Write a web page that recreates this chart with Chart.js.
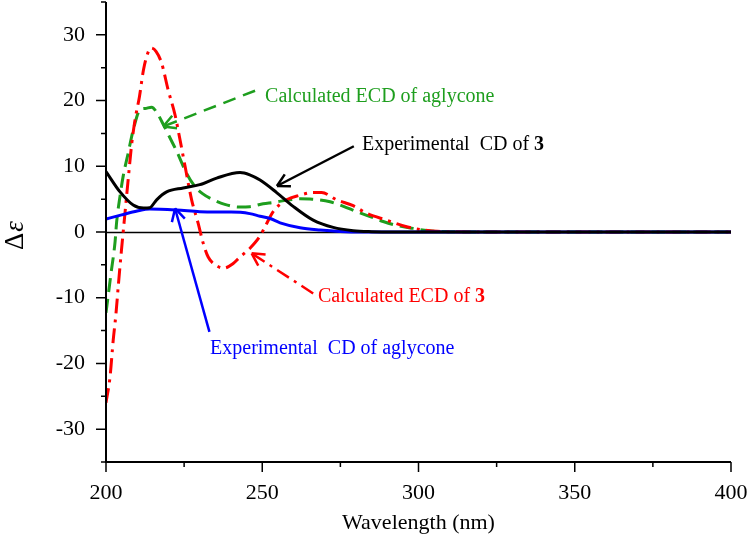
<!DOCTYPE html>
<html>
<head>
<meta charset="utf-8">
<script src="https://cdn.jsdelivr.net/npm/chart.js@4.4.1/dist/chart.umd.min.js"></script>
<style>
  html, body { margin: 0; padding: 0; background: #fff; }
  #box { width: 750px; height: 552px; }
</style>
</head>
<body>
<div id="box"><canvas id="cd"></canvas></div>
<script>
// wavelength (nm) and delta epsilon
const expWl3 = [200, 204.5, 208.7, 212, 214, 216.2, 219.4, 224.7, 230, 235.4, 242.9, 246, 249.3, 254.6, 259.9, 266.3, 272.7, 279.1, 285, 292, 300, 350, 400];
const expCd3 = [9.2, 6.1, 4.1, 3.65, 3.7, 4.9, 6.1, 6.7, 7.2, 8.2, 9.05, 8.7, 7.9, 6.0, 3.9, 1.8, 0.7, 0.2, 0.05, 0, 0, 0, 0];

const expWlAgl = [200, 205, 210, 214, 222.6, 230, 235, 240, 243, 246, 249.3, 252.5, 255.7, 262.1, 268.5, 274.9, 282, 300, 400];
const expCdAgl = [1.97, 2.6, 3.2, 3.5, 3.35, 3.1, 3.05, 3.05, 3.0, 2.8, 2.4, 2.05, 1.4, 0.65, 0.3, 0.08, 0, 0, 0];

const calcWl3 = [200, 201.3, 202.3, 203.2, 204, 205, 206, 207, 208.2, 209.3, 210.7, 212, 213.2, 214.4, 216, 217.8, 219.9, 222.1, 223.7, 225.3, 227.4, 229.5, 231.1, 232.7, 235, 237.7, 240.7, 242.9, 246, 249.3, 251, 253.5, 257.8, 262, 266, 269, 273.8, 279.1, 283.4, 289.8, 296.2, 301, 306, 320, 400];
const calcEcd3 = [-26, -22, -16.5, -12.4, -7.8, -2.5, 2.5, 7.5, 13.3, 17.1, 20.6, 24.7, 27.0, 28.0, 27.5, 25.7, 21.6, 17.8, 14.0, 10.0, 4.9, 1.3, -1.7, -3.8, -5.0, -5.5, -4.8, -3.8, -2.5, -0.6, 0.9, 3.1, 4.9, 5.6, 6.0, 6.0, 4.9, 4.0, 2.85, 1.8, 0.8, 0.35, 0.1, 0, 0];

const calcWlAgl = [200, 201.6, 202.9, 203.4, 204.5, 205.5, 207, 208.7, 210.9, 212.5, 214.6, 216.5, 218.5, 220.5, 222.6, 225.8, 228.5, 231, 234.3, 238, 242.9, 246, 250.3, 253.5, 258, 262.1, 266, 271.7, 276, 280.2, 284.5, 288.7, 293, 298.3, 303, 310, 320, 400];
const calcEcdAgl = [-12.3, -6.3, -1.5, 1.5, 5.5, 8.5, 11.8, 15.5, 18.6, 18.8, 19.0, 18.0, 16.2, 14.3, 12.3, 8.9, 6.9, 5.8, 4.9, 4.2, 3.8, 3.85, 4.3, 4.5, 4.85, 5.05, 5.0, 4.6, 3.9, 3.1, 2.35, 1.6, 1.0, 0.55, 0.2, 0.05, 0, 0];

const xTicks = [200, 250, 300, 350, 400];
const yTicks = [-30, -20, -10, 0, 10, 20, 30];

const serif = "'Liberation Serif', 'Times New Roman', serif";
const GREEN = '#1e9e1e';

// annotation arrows and labels, in data coordinates
const notes = [
  { text: 'Calculated ECD of aglycone', at: [250.9, 20.6], from: [247.7, 21.5], to: [218.3, 16.05], color: GREEN, dash: [13, 8] },
  { text: 'Experimental  CD of ', bold: '3', at: [281.9, 13.3], from: [279.3, 13.05], to: [254.7, 7.0], color: '#000', dash: [] },
  { text: 'Calculated ECD of ', bold: '3', at: [267.8, -9.9], from: [266.3, -9.35], to: [246.6, -3.25], color: '#ff0000', dash: [14, 6, 3, 6] },
  { text: 'Experimental  CD of aglycone', at: [233.3, -17.7], from: [233.1, -15.2], to: [222.1, 3.58], color: '#0000ff', dash: [] }
];

const pts = (xs, ys) => xs.map((x, i) => ({ x: x, y: ys[i] }));

const extras = {
  id: 'extras',
  beforeDatasetsDraw(chart) {
    const { ctx, chartArea: a, scales: { y } } = chart;
    const y0 = Math.round(y.getPixelForValue(0)) + 0.5;
    ctx.save();
    ctx.strokeStyle = '#000';
    ctx.lineWidth = 1.5;
    ctx.beginPath();
    ctx.moveTo(a.left, y0);
    ctx.lineTo(a.right, y0);
    ctx.stroke();
    ctx.restore();
  },
  afterDraw(chart) {
    const { ctx, chartArea: a, scales: { x, y } } = chart;
    ctx.save();
    // axes
    ctx.strokeStyle = '#000';
    ctx.lineWidth = 2;
    ctx.beginPath();
    ctx.moveTo(a.left, a.top);
    ctx.lineTo(a.left, a.bottom);
    ctx.lineTo(a.right, a.bottom);
    ctx.stroke();
    // tick marks, major and minor
    ctx.lineWidth = 1.5;
    ctx.beginPath();
    for (let v = 200; v <= 400; v += 25) {
      const px = x.getPixelForValue(v);
      ctx.moveTo(px, a.bottom);
      ctx.lineTo(px, a.bottom + (v % 50 === 0 ? 10 : 5));
    }
    for (let v = -35; v <= 35; v += 5) {
      const py = y.getPixelForValue(v);
      ctx.moveTo(a.left, py);
      ctx.lineTo(a.left - (v % 10 === 0 ? 10 : 5), py);
    }
    ctx.stroke();

    // y axis title: upright delta, italic epsilon
    ctx.save();
    ctx.translate(23, 250);
    ctx.rotate(-Math.PI / 2);
    ctx.fillStyle = '#000';
    ctx.textBaseline = 'alphabetic';
    ctx.font = '27px ' + serif;
    ctx.fillText('Δ', 0, 0);
    const dw = ctx.measureText('Δ').width;
    ctx.font = 'italic 27px ' + serif;
    ctx.fillText('ε', dw + 1, 0);
    ctx.restore();

    // arrows and labels
    notes.forEach(n => {
      const x1 = x.getPixelForValue(n.from[0]), y1 = y.getPixelForValue(n.from[1]);
      const x2 = x.getPixelForValue(n.to[0]), y2 = y.getPixelForValue(n.to[1]);
      ctx.strokeStyle = n.color;
      ctx.lineWidth = 2.5;
      ctx.setLineDash(n.dash);
      ctx.beginPath();
      ctx.moveTo(x1, y1);
      ctx.lineTo(x2, y2);
      ctx.stroke();
      ctx.setLineDash([]);
      const ang = Math.atan2(y2 - y1, x2 - x1);
      ctx.beginPath();
      [-0.5, 0.5].forEach(d => {
        ctx.moveTo(x2, y2);
        ctx.lineTo(x2 - 14 * Math.cos(ang + d), y2 - 14 * Math.sin(ang + d));
      });
      ctx.stroke();

      const tx = x.getPixelForValue(n.at[0]), ty = y.getPixelForValue(n.at[1]);
      ctx.fillStyle = n.color;
      ctx.textBaseline = 'middle';
      ctx.textAlign = 'left';
      ctx.font = '20px ' + serif;
      ctx.fillText(n.text, tx, ty);
      if (n.bold) {
        const w = ctx.measureText(n.text).width;
        ctx.font = 'bold 20px ' + serif;
        ctx.fillText(n.bold, tx + w, ty);
      }
    });
    ctx.restore();
  }
};

new Chart(document.getElementById('cd'), {
  type: 'line',
  data: {
    datasets: [{
      label: 'Experimental CD of 3',
      data: pts(expWl3, expCd3),
      borderColor: '#000',
      borderWidth: 3,
      order: 1
    }, {
      label: 'Experimental CD of aglycone',
      data: pts(expWlAgl, expCdAgl),
      borderColor: '#0000ff',
      borderWidth: 3,
      order: 2
    }, {
      label: 'Calculated ECD of 3',
      data: pts(calcWl3, calcEcd3),
      borderColor: '#ff0000',
      borderWidth: 3,
      borderDash: [15, 6, 3, 6],
      order: 3
    }, {
      label: 'Calculated ECD of aglycone',
      data: pts(calcWlAgl, calcEcdAgl),
      borderColor: GREEN,
      borderWidth: 3,
      borderDash: [14, 7],
      order: 4
    }]
  },
  options: {
    responsive: true,
    maintainAspectRatio: false,
    animation: false,
    layout: { padding: { top: 2, right: 19, left: 0, bottom: 0 } },
    elements: {
      point: { radius: 0 },
      line: { cubicInterpolationMode: 'monotone', fill: false }
    },
    plugins: { legend: { display: false }, tooltip: { enabled: false } },
    scales: {
      x: {
        type: 'linear',
        min: 200,
        max: 400,
        grid: { display: false },
        border: { display: false },
        afterBuildTicks: s => { s.ticks = xTicks.map(v => ({ value: v })); },
        afterFit: s => { s.height = 90; s.paddingLeft = 0; s.paddingRight = 0; },
        ticks: { color: '#000', padding: 10, maxRotation: 0, font: { family: serif, size: 22 } },
        title: { display: true, text: 'Wavelength (nm)', color: '#000', font: { family: serif, size: 22 }, padding: { top: 0, bottom: 16 } }
      },
      y: {
        min: -35,
        max: 35,
        grid: { display: false },
        border: { display: false },
        afterBuildTicks: s => { s.ticks = yTicks.map(v => ({ value: v })); },
        afterFit: s => { s.width = 106; s.paddingTop = 0; s.paddingBottom = 0; },
        ticks: { color: '#000', padding: 13, font: { family: serif, size: 22 } }
      }
    }
  },
  plugins: [extras]
});
</script>
</body>
</html>
